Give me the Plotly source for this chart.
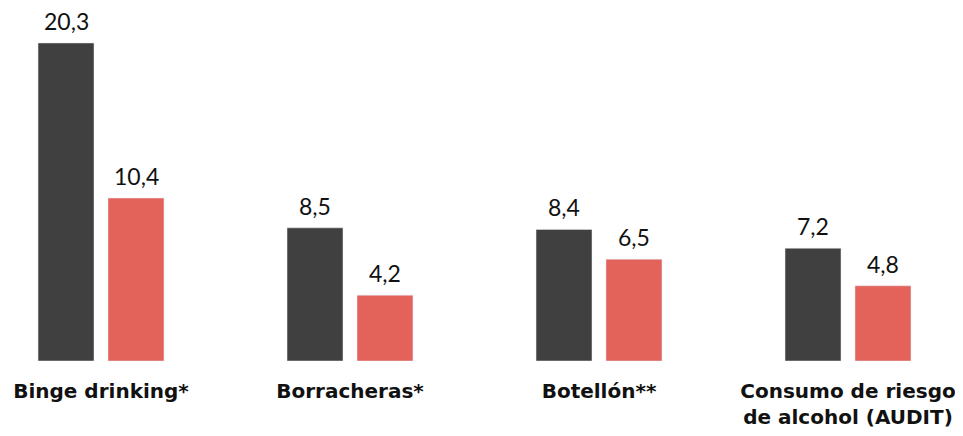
import plotly.graph_objects as go

categories = ["Binge drinking*", "Borracheras*", "Botellón**", "Consumo de riesgo<br>de alcohol (AUDIT)"]
serie_a = [20.3, 8.5, 8.4, 7.2]
serie_b = [10.4, 4.2, 6.5, 4.8]
color_a = "#404040"
color_b = "#E3625A"

def fmt(v):
    return f"{v:.1f}".replace(".", ",")

xs = list(range(len(categories)))
fig = go.Figure()
annotations = []
for vals, col, shift in [(serie_a, color_a, -35), (serie_b, color_b, 35)]:
    fig.add_trace(go.Bar(x=xs, y=vals, marker_color=col, showlegend=False, hoverinfo="skip"))
    for xi, v in zip(xs, vals):
        annotations.append(dict(
            x=xi, y=v, xref="x", yref="y", text=fmt(v), showarrow=False,
            xshift=shift, yshift=7, yanchor="bottom", borderpad=0,
            font=dict(family="Lato, Arial, sans-serif", size=23, color="#111111"),
        ))

fig.update_layout(
    width=963, height=436,
    margin=dict(l=0, r=0, t=0, b=83),
    barmode="group", bargap=0.438, bargroupgap=0.2,
    plot_bgcolor="white", paper_bgcolor="white",
    annotations=annotations,
    xaxis=dict(
        range=[-0.3735, 3.494], tickmode="array",
        tickvals=xs, ticktext=categories,
        showgrid=False, zeroline=False, showline=False,
        ticks="outside", ticklen=12, tickcolor="rgba(0,0,0,0)",
        tickfont=dict(family="DejaVu Sans, sans-serif", size=20, color="#111111", weight="bold"),
    ),
    yaxis=dict(range=[0, 22.53], visible=False),
)

fig.write_html("out.html")
